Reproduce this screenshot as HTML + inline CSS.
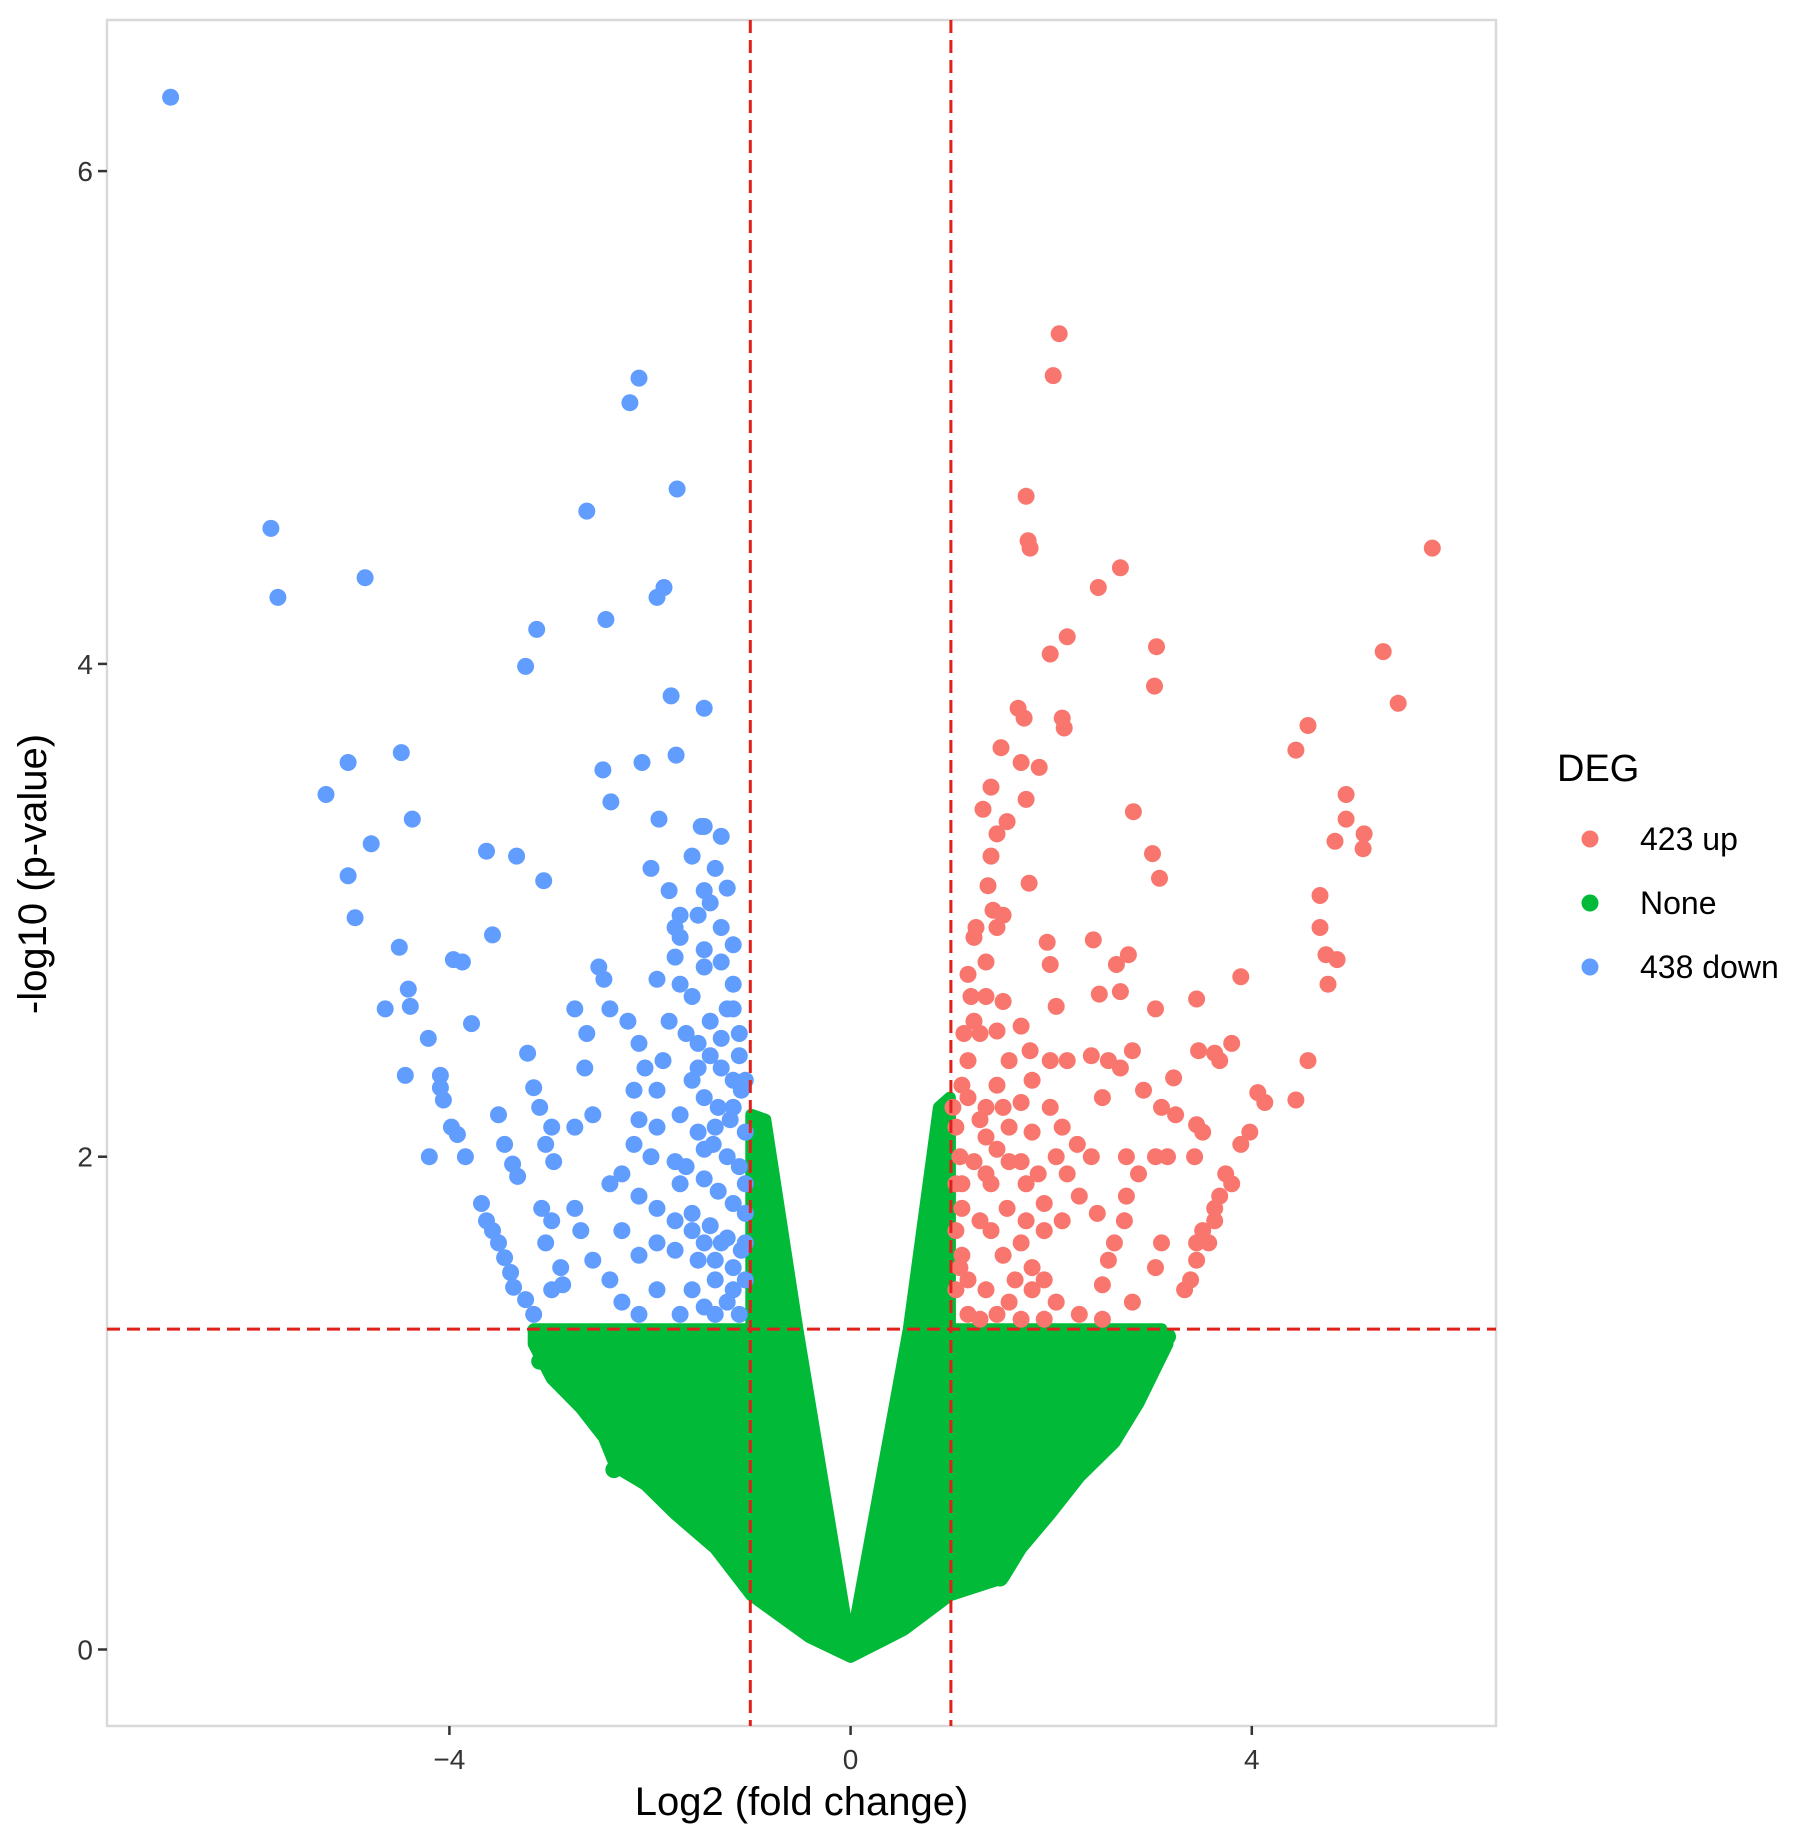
<!DOCTYPE html>
<html><head><meta charset="utf-8"><style>
html,body{margin:0;padding:0;background:#fff;}
svg{display:block;font-family:"Liberation Sans",Arial,sans-serif;}
</style></head><body>
<svg id="chart" width="1795" height="1830" viewBox="0 0 1795 1830">
<rect x="0" y="0" width="1795" height="1830" fill="#fff"/>
<g id="plot"></g>
</svg>
<script>
// ---- data ----
const xTicks = [-4, 0, 4];
const yTicks = [0, 2, 4, 6];
const xThresh = [-1, 1];
const yThresh = [1.3];
const legendLabels = ["423 up", "None", "438 down"];
const downX = [-6.78,-5.78,-5.71,-4.84,-2.11,-2.20,-2.63,-1.73,-1.86,-1.93,-2.44,-3.13,-3.24,-1.79,-1.46,-4.48,-5.01,-2.08,-1.74,-2.47,-5.23,-2.39,-4.37,-1.91,-1.46,-4.78,-3.63,-3.33,-3.06,-5.01,-4.94,-3.57,-1.99,-1.81,-1.70,-1.46,-1.23,-1.35,-1.58,-4.50,-3.96,-3.87,-4.41,-4.39,-4.64,-3.78,-4.21,-4.44,-4.09,-4.09,-3.22,-4.06,-3.98,-3.92,-4.20,-3.84,-3.51,-3.45,-3.37,-3.32,-3.68,-3.63,-3.57,-3.51,-3.45,-3.39,-3.36,-3.24,-3.16,-2.98,-2.87,-2.89,-3.04,-2.98,-3.08,-2.75,-2.69,-2.57,-2.40,-2.28,-2.11,-1.93,-1.70,-1.46,-1.23,-3.16,-3.10,-2.98,-3.04,-2.96,-2.75,-2.57,-2.65,-2.75,-2.63,-2.51,-2.46,-2.40,-2.22,-2.11,-2.05,-2.16,-2.11,-1.93,-2.16,-1.99,-2.28,-2.40,-2.11,-1.93,-1.75,-1.58,-1.46,-1.35,-1.17,-1.64,-1.52,-1.40,-1.29,-1.17,-1.09,-1.58,-1.46,-1.32,-1.20,-1.05,-1.70,-1.52,-1.37,-1.23,-1.11,-1.64,-1.46,-1.32,-1.17,-1.05,-1.58,-1.40,-1.23,-1.09,-1.75,-1.52,-1.35,-1.17,-1.81,-1.70,-1.75,-1.70,-1.46,-1.29,-1.17,-1.23,-1.11,-1.40,-1.87,-1.93,-1.75,-1.93,-2.11,-2.28,-1.75,-1.52,-1.40,-1.29,-1.17,-1.46,-1.58,-1.93,-1.29,-1.49,-1.11,-1.05,-1.05,-1.05,-1.05,-1.11,-1.35,-1.58,-1.29,-1.70,-1.46,-1.17,-1.35,-1.52,-1.29,-1.17];
const downY = [6.30,4.55,4.27,4.35,5.16,5.06,4.62,4.71,4.31,4.27,4.18,4.14,3.99,3.87,3.82,3.64,3.60,3.60,3.63,3.57,3.47,3.44,3.37,3.37,3.34,3.27,3.24,3.22,3.12,3.14,2.97,2.90,3.17,3.08,2.98,3.08,3.09,3.17,3.22,2.85,2.80,2.79,2.68,2.61,2.60,2.54,2.48,2.33,2.33,2.28,2.42,2.23,2.12,2.09,2.00,2.00,2.17,2.05,1.97,1.92,1.81,1.74,1.70,1.65,1.59,1.53,1.47,1.42,1.36,1.46,1.48,1.55,1.65,1.74,1.79,1.79,1.70,1.58,1.50,1.41,1.36,1.46,1.36,1.39,1.41,2.28,2.20,2.12,2.05,1.98,2.12,2.17,2.36,2.60,2.50,2.77,2.72,2.60,2.55,2.46,2.36,2.27,2.15,2.12,2.05,2.00,1.93,1.89,1.84,1.79,1.74,1.70,1.65,1.58,1.55,2.50,2.46,2.41,2.36,2.31,2.27,2.31,2.24,2.20,2.15,2.10,2.17,2.10,2.05,2.00,1.96,1.96,1.91,1.86,1.81,1.77,1.77,1.72,1.67,1.62,1.62,1.58,1.50,1.46,2.55,2.70,2.81,2.89,2.84,2.79,2.70,2.60,2.50,2.55,2.39,2.27,1.98,1.65,1.60,1.70,2.93,2.98,3.03,2.93,2.86,2.77,2.65,2.72,3.30,3.34,2.41,2.31,1.89,1.65,1.50,1.36,1.36,1.46,1.65,1.89,2.03,2.20,2.12,2.36,2.48,2.60];
const upX = [2.08,2.02,1.75,1.77,1.79,5.80,2.69,2.47,2.16,3.05,1.99,5.31,3.03,1.67,1.73,2.11,2.13,5.46,4.56,4.44,1.50,1.70,1.88,1.75,1.56,1.40,1.32,1.46,1.40,1.37,1.42,1.78,1.25,1.23,1.46,1.52,1.96,1.99,2.42,2.77,2.65,2.48,2.69,2.05,1.70,1.79,1.58,1.35,1.29,1.17,1.11,1.02,2.82,3.01,3.08,4.94,4.94,4.83,5.12,5.11,4.68,4.68,4.74,4.85,4.76,3.89,3.45,3.80,3.63,3.68,3.47,3.22,4.56,4.44,4.06,4.13,3.98,3.89,3.74,3.80,3.68,3.63,3.51,3.45,3.45,3.39,3.33,3.10,3.24,3.45,3.51,3.43,3.16,3.04,2.75,2.87,2.75,2.73,2.63,2.57,2.51,2.81,1.99,2.11,2.26,2.40,2.05,2.16,2.28,2.46,2.11,1.93,1.70,1.52,1.81,1.93,1.81,2.05,2.28,2.51,1.58,1.35,1.17,1.11,1.29,1.40,1.11,1.23,1.35,1.58,1.70,1.46,1.81,1.99,2.16,2.40,2.57,2.81,2.51,2.69,3.04,2.92,3.57,3.63,3.10,3.04,1.05,1.09,1.05,1.11,1.05,1.09,1.05,1.17,1.29,1.46,1.64,1.70,1.93,1.40,1.56,1.75,1.58,1.35,1.46,1.29,1.17,1.35,1.52,1.81,1.70,1.87,1.93,1.75,1.23,1.20,1.13,1.17,1.35,1.52,1.46];
const upY = [5.34,5.17,4.68,4.50,4.47,4.47,4.39,4.31,4.11,4.07,4.04,4.05,3.91,3.82,3.78,3.78,3.74,3.84,3.75,3.65,3.66,3.60,3.58,3.45,3.36,3.50,3.41,3.31,3.22,3.10,3.00,3.11,2.93,2.89,2.93,2.98,2.87,2.78,2.88,2.82,2.78,2.66,2.67,2.61,2.53,2.43,2.39,2.65,2.50,2.39,2.29,2.20,3.40,3.23,3.13,3.47,3.37,3.28,3.31,3.25,3.06,2.93,2.82,2.80,2.70,2.73,2.64,2.46,2.42,2.39,2.43,2.32,2.39,2.23,2.26,2.22,2.10,2.05,1.93,1.89,1.84,1.74,1.70,1.65,1.58,1.50,1.46,2.20,2.17,2.13,2.10,2.00,2.00,2.00,2.00,1.93,1.84,1.74,1.65,1.58,1.48,1.41,2.20,2.12,2.05,2.00,2.00,1.93,1.84,1.77,1.74,1.70,1.65,1.60,1.55,1.50,1.46,1.41,1.36,1.34,1.41,1.46,1.50,1.60,1.74,1.89,1.89,1.98,2.08,2.12,2.22,2.29,2.31,2.39,2.39,2.41,2.39,2.43,2.24,2.36,2.60,2.27,1.65,1.79,1.65,1.55,2.12,2.00,1.89,1.79,1.70,1.55,1.46,1.36,1.34,1.36,1.50,1.34,1.34,1.70,1.79,1.89,1.98,1.93,2.03,2.15,2.24,2.20,2.20,2.10,1.98,1.93,1.81,1.74,2.55,2.65,2.50,2.74,2.79,2.63,2.51];
// non-significant cloud (boundary of dense region)
const noneX = [-3.16,-0.99,-0.99,-0.85,-0.53,-0.05,0,0.05,0.58,0.88,0.99,0.99,3.10,3.16,2.87,2.63,2.28,1.99,1.70,1.52,0.99,0.53,0,-0.41,-0.99,-1.35,-1.75,-2.05,-2.34,-2.46,-2.69,-2.98,-3.16];
const noneY = [1.30,1.30,2.17,2.15,1.30,0.12,0.10,0.12,1.30,2.20,2.24,1.30,1.30,1.24,1.00,0.84,0.70,0.55,0.41,0.29,0.22,0.08,-0.03,0.05,0.22,0.41,0.55,0.67,0.74,0.86,0.98,1.10,1.24];
// scattered non-significant outliers
const noneOutX = [2.83,2.63,3.16,1.49,1.38,-3.10,-2.36];
const noneOutY = [1.00,0.86,1.27,0.29,0.29,1.17,0.73];

// ---- scales ----
const L=107,R=1496,T=20,B=1726;
const xs = v => 850.6 + v*100.3;
const ys = v => 1649.5 - v*246.4;
const NS="http://www.w3.org/2000/svg";
const g=document.getElementById('plot');
function mk(tag, attrs, parent){const e=document.createElementNS(NS,tag);for(const k in attrs)e.setAttribute(k,attrs[k]);(parent||g).appendChild(e);return e;}

// panel
const panel=mk('rect',{x:L,y:T,width:R-L,height:B-T,fill:'#fff',stroke:'#d9d9d9','stroke-width':2.5});



// green cloud
const ptsStr=noneX.map((x,i)=>xs(x).toFixed(1)+','+ys(noneY[i]).toFixed(1)).join(' ');
const cloud=mk('polygon',{points:ptsStr,fill:'#00BA38',stroke:'#00BA38','stroke-width':12,'stroke-linejoin':'round'});



function drawPts(X,Y,color,name){
  const grp=mk('g',{});
  
  
  X.forEach((x,i)=>{
    const c=mk('circle',{cx:xs(x).toFixed(1),cy:ys(Y[i]).toFixed(1),r:8.5,fill:color},grp);
    
    
  });
}
drawPts(noneOutX,noneOutY,'#00BA38','none');
drawPts(downX,downY,'#619CFF','down');
drawPts(upX,upY,'#F8766D','up');

// threshold lines
xThresh.forEach(v=>{
  const l=mk('line',{x1:xs(v),x2:xs(v),y1:T,y2:B,stroke:'#e0201b','stroke-width':3,'stroke-dasharray':'13,7'});
  
  
});
yThresh.forEach(v=>{
  const l=mk('line',{x1:L,x2:R,y1:ys(v),y2:ys(v),stroke:'#e0201b','stroke-width':3,'stroke-dasharray':'13,7'});
  
  
});

// ticks
xTicks.forEach(v=>{
  const t=mk('line',{x1:xs(v),x2:xs(v),y1:B,y2:B+9,stroke:'#333','stroke-width':2.5});
  
  
  const tx=mk('text',{x:xs(v),y:B+43,'text-anchor':'middle','font-size':28,fill:'#333'});
  tx.textContent=v===0?'0':(v<0?'\u2212'+Math.abs(v):String(v));
  
  
});
yTicks.forEach(v=>{
  const t=mk('line',{x1:L-9,x2:L,y1:ys(v),y2:ys(v),stroke:'#333','stroke-width':2.5});
  
  
  const tx=mk('text',{x:L-14,y:ys(v)+10,'text-anchor':'end','font-size':28,fill:'#333'});
  tx.textContent=String(v);
  
  
});

// axis titles
const xt=mk('text',{x:(L+R)/2,y:1815,'text-anchor':'middle','font-size':40,fill:'#000'});
xt.textContent='Log2 (fold change)';


const yt=mk('text',{x:0,y:0,'text-anchor':'middle','font-size':40,fill:'#000',transform:'translate(46,874) rotate(-90)'});
yt.textContent='-log10 (p-value)';



// legend
const lg=mk('g',{});


const lt=mk('text',{x:1557,y:781,'font-size':38,fill:'#000'},lg);
lt.textContent='DEG';


const lcol=['#F8766D','#00BA38','#619CFF'];
legendLabels.forEach((s,i)=>{
  const yy=839+i*64;
  const c=mk('circle',{cx:1590,cy:yy,r:8.5,fill:lcol[i]},lg);
  
  
  const t=mk('text',{x:1640,y:yy+11,'font-size':32,fill:'#000'},lg);
  t.textContent=s;
  
  
});
</script>
</body></html>
